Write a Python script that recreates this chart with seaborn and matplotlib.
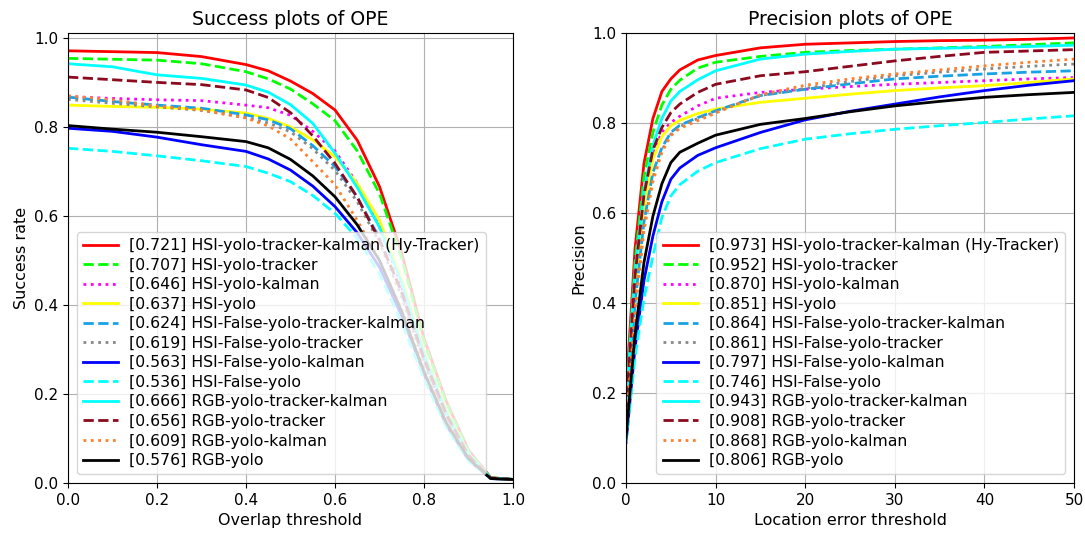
import numpy as np
import pandas as pd
import matplotlib
matplotlib.use("Agg")
import matplotlib.pyplot as plt
import seaborn as sns

names = [
    "HSI-yolo-tracker-kalman (Hy-Tracker)",
    "HSI-yolo-tracker",
    "HSI-yolo-kalman",
    "HSI-yolo",
    "HSI-False-yolo-tracker-kalman",
    "HSI-False-yolo-tracker",
    "HSI-False-yolo-kalman",
    "HSI-False-yolo",
    "RGB-yolo-tracker-kalman",
    "RGB-yolo-tracker",
    "RGB-yolo-kalman",
    "RGB-yolo",
]
success_auc = [0.721, 0.707, 0.646, 0.637, 0.624, 0.619, 0.563, 0.536, 0.666, 0.656, 0.609, 0.576]
precision_at20 = [0.973, 0.952, 0.870, 0.851, 0.864, 0.861, 0.797, 0.746, 0.943, 0.908, 0.868, 0.806]

colors = ["#ff0000", "#00ff00", "#ff00ff", "#ffff00", "#18a2e6", "#888888",
          "#0000ff", "#00ffff", "#00ffff", "#8b0a1e", "#ff7f2a", "#000000"]
styles = ["-", "--", ":", "-", "--", ":", "-", "--", "-", "--", ":", "-"]

# Success plot: overlap thresholds
overlap = [0, 0.1, 0.2, 0.3, 0.4, 0.45, 0.5, 0.55, 0.6, 0.65, 0.7, 0.75, 0.8, 0.85, 0.9, 0.95, 1.0]
succ_hsi_ytk = [0.971, 0.969, 0.967, 0.958, 0.940, 0.926, 0.903, 0.875, 0.838, 0.770, 0.666, 0.517, 0.325, 0.184, 0.074, 0.012, 0.008]
succ_hsi_yt = [0.954, 0.952, 0.950, 0.942, 0.924, 0.908, 0.885, 0.852, 0.814, 0.746, 0.650, 0.505, 0.318, 0.180, 0.072, 0.012, 0.008]
succ_hsi_yk = [0.868, 0.864, 0.861, 0.859, 0.849, 0.843, 0.826, 0.790, 0.746, 0.673, 0.575, 0.440, 0.285, 0.160, 0.064, 0.011, 0.008]
succ_hsi_y = [0.849, 0.846, 0.844, 0.840, 0.831, 0.819, 0.800, 0.771, 0.733, 0.673, 0.590, 0.460, 0.295, 0.165, 0.066, 0.011, 0.008]
succ_hsif_ytk = [0.867, 0.857, 0.849, 0.842, 0.827, 0.816, 0.796, 0.758, 0.711, 0.642, 0.550, 0.425, 0.275, 0.150, 0.060, 0.011, 0.008]
succ_hsif_yt = [0.862, 0.853, 0.845, 0.837, 0.821, 0.809, 0.789, 0.751, 0.702, 0.632, 0.540, 0.418, 0.270, 0.148, 0.060, 0.011, 0.008]
succ_hsif_yk = [0.797, 0.790, 0.777, 0.760, 0.745, 0.728, 0.703, 0.667, 0.621, 0.562, 0.485, 0.375, 0.245, 0.130, 0.052, 0.010, 0.008]
succ_hsif_y = [0.752, 0.745, 0.735, 0.724, 0.711, 0.696, 0.677, 0.646, 0.606, 0.550, 0.470, 0.360, 0.235, 0.125, 0.050, 0.010, 0.008]
succ_rgb_ytk = [0.942, 0.935, 0.917, 0.909, 0.894, 0.878, 0.850, 0.808, 0.741, 0.664, 0.575, 0.450, 0.290, 0.160, 0.065, 0.011, 0.008]
succ_rgb_yt = [0.912, 0.906, 0.900, 0.895, 0.883, 0.866, 0.832, 0.780, 0.718, 0.642, 0.545, 0.430, 0.280, 0.155, 0.062, 0.011, 0.008]
succ_rgb_yk = [0.870, 0.861, 0.847, 0.838, 0.820, 0.802, 0.773, 0.722, 0.670, 0.590, 0.500, 0.390, 0.255, 0.140, 0.056, 0.010, 0.008]
succ_rgb_y = [0.803, 0.795, 0.788, 0.778, 0.767, 0.753, 0.727, 0.690, 0.643, 0.580, 0.500, 0.385, 0.250, 0.135, 0.055, 0.010, 0.008]

# Precision plot: location error thresholds
loc_err = [0, 1, 2, 3, 4, 5, 6, 8, 10, 15, 20, 25, 30, 35, 40, 45, 50]
prec_hsi_ytk = [0.20, 0.52, 0.71, 0.81, 0.87, 0.898, 0.918, 0.940, 0.950, 0.967, 0.975, 0.978, 0.981, 0.983, 0.984, 0.986, 0.989]
prec_hsi_yt = [0.18, 0.49, 0.68, 0.78, 0.84, 0.875, 0.895, 0.922, 0.935, 0.948, 0.957, 0.961, 0.964, 0.967, 0.970, 0.974, 0.978]
prec_hsi_yk = [0.15, 0.44, 0.62, 0.73, 0.78, 0.801, 0.815, 0.838, 0.855, 0.868, 0.875, 0.881, 0.886, 0.890, 0.894, 0.898, 0.901]
prec_hsi_y = [0.14, 0.43, 0.61, 0.72, 0.77, 0.794, 0.806, 0.821, 0.831, 0.846, 0.855, 0.864, 0.872, 0.878, 0.883, 0.890, 0.898]
prec_hsif_ytk = [0.14, 0.40, 0.58, 0.69, 0.745, 0.779, 0.795, 0.812, 0.827, 0.861, 0.875, 0.887, 0.898, 0.904, 0.909, 0.913, 0.916]
prec_hsif_yt = [0.13, 0.39, 0.57, 0.68, 0.74, 0.775, 0.792, 0.810, 0.825, 0.861, 0.877, 0.892, 0.905, 0.913, 0.920, 0.926, 0.931]
prec_hsif_yk = [0.09, 0.30, 0.45, 0.549, 0.625, 0.675, 0.700, 0.728, 0.745, 0.779, 0.807, 0.826, 0.842, 0.858, 0.872, 0.884, 0.894]
prec_hsif_y = [0.09, 0.28, 0.41, 0.504, 0.59, 0.638, 0.663, 0.693, 0.712, 0.743, 0.764, 0.776, 0.786, 0.794, 0.801, 0.809, 0.816]
prec_rgb_ytk = [0.17, 0.47, 0.65, 0.75, 0.81, 0.849, 0.870, 0.896, 0.916, 0.942, 0.953, 0.959, 0.964, 0.966, 0.968, 0.970, 0.973]
prec_rgb_yt = [0.16, 0.46, 0.64, 0.74, 0.79, 0.823, 0.842, 0.868, 0.886, 0.905, 0.914, 0.926, 0.938, 0.948, 0.957, 0.960, 0.963]
prec_rgb_yk = [0.13, 0.38, 0.56, 0.67, 0.735, 0.772, 0.788, 0.805, 0.822, 0.863, 0.884, 0.898, 0.909, 0.918, 0.927, 0.935, 0.942]
prec_rgb_y = [0.10, 0.33, 0.49, 0.593, 0.665, 0.712, 0.735, 0.755, 0.773, 0.797, 0.810, 0.825, 0.838, 0.848, 0.857, 0.863, 0.868]

success = [succ_hsi_ytk, succ_hsi_yt, succ_hsi_yk, succ_hsi_y, succ_hsif_ytk, succ_hsif_yt,
           succ_hsif_yk, succ_hsif_y, succ_rgb_ytk, succ_rgb_yt, succ_rgb_yk, succ_rgb_y]
precision = [prec_hsi_ytk, prec_hsi_yt, prec_hsi_yk, prec_hsi_y, prec_hsif_ytk, prec_hsif_yt,
             prec_hsif_yk, prec_hsif_y, prec_rgb_ytk, prec_rgb_yt, prec_rgb_yk, prec_rgb_y]

plt.rcParams["font.family"] = ["DejaVu Sans"]

fig = plt.figure(figsize=(10.85, 5.33), dpi=100)
ax1 = fig.add_axes([0.0627, 0.0938, 0.4101, 0.8443])
ax2 = fig.add_axes([0.5770, 0.0938, 0.4129, 0.8443])

for i, name in enumerate(names):
    sns.lineplot(x=overlap, y=success[i], ax=ax1, color=colors[i], linestyle=styles[i],
                 linewidth=2, label=f"[{success_auc[i]:.3f}] {name}", sort=False)
    sns.lineplot(x=loc_err, y=precision[i], ax=ax2, color=colors[i], linestyle=styles[i],
                 linewidth=2, label=f"[{precision_at20[i]:.3f}] {name}", sort=False)

leg_kw = dict(fontsize=11.3, labelspacing=0.29, handlelength=2.25, handletextpad=0.7,
              borderaxespad=0.55)

for ax, title, xl, yl, loc in [
    (ax1, "Success plots of OPE", "Overlap threshold", "Success rate", "lower left"),
    (ax2, "Precision plots of OPE", "Location error threshold", "Precision", "lower right"),
]:
    ax.set_yticks([0, 0.2, 0.4, 0.6, 0.8, 1.0])
    ax.set_title(title, fontsize=13.6)
    ax.set_xlabel(xl, fontsize=11.5)
    ax.set_ylabel(yl, fontsize=11.5)
    ax.tick_params(labelsize=11)
    ax.grid(True)
    ax.legend(loc=loc, **leg_kw)

ax1.set_xlim(0, 1)
ax1.set_ylim(0, 1.011)
ax1.set_xticks([0, 0.2, 0.4, 0.6, 0.8, 1.0])
ax2.set_xlim(0, 50)
ax2.set_ylim(0, 1.0)
ax2.set_xticks([0, 10, 20, 30, 40, 50])

fig.savefig("out.png", dpi=100)
